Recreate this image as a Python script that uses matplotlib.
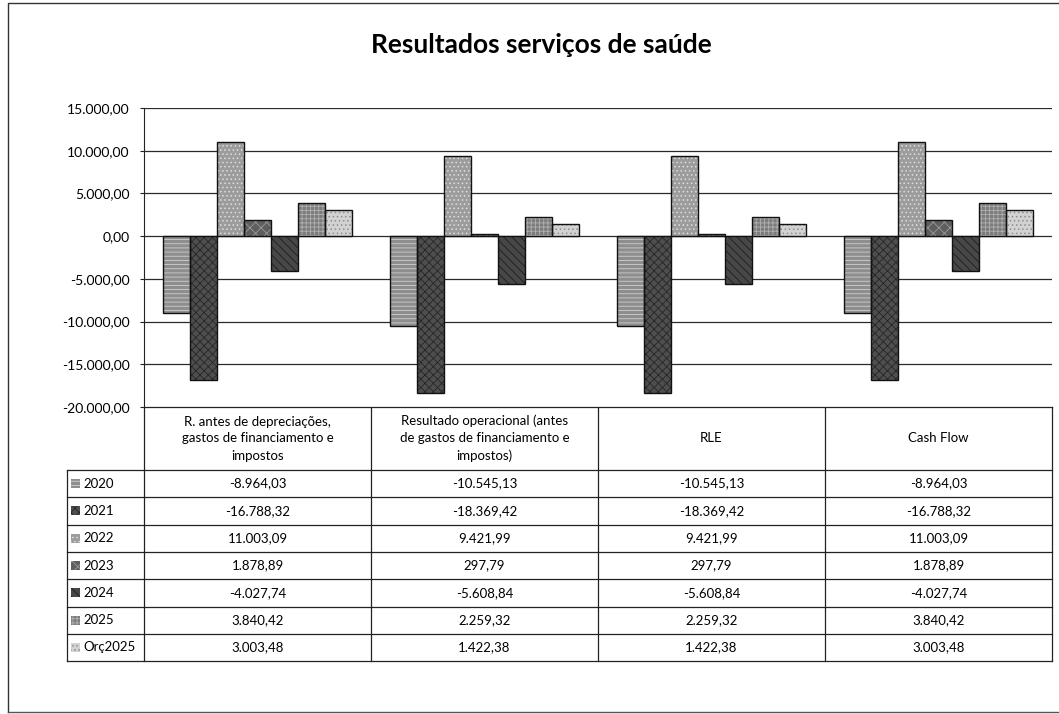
import matplotlib.pyplot as plt
import numpy as np

plt.rcParams['font.family'] = ['Lato', 'DejaVu Sans']
plt.rcParams['hatch.linewidth'] = 0.6

# Data
categories = [
    "R. antes de depreciações,\ngastos de financiamento e\nimpostos",
    "Resultado operacional (antes\nde gastos de financiamento e\nimpostos)",
    "RLE",
    "Cash Flow",
]
series = ["2020", "2021", "2022", "2023", "2024", "2025", "Orç2025"]
v2020 = [-8964.03, -10545.13, -10545.13, -8964.03]
v2021 = [-16788.32, -18369.42, -18369.42, -16788.32]
v2022 = [11003.09, 9421.99, 9421.99, 11003.09]
v2023 = [1878.89, 297.79, 297.79, 1878.89]
v2024 = [-4027.74, -5608.84, -5608.84, -4027.74]
v2025 = [3840.42, 2259.32, 2259.32, 3840.42]
vorc = [3003.48, 1422.38, 1422.38, 3003.48]
values = [v2020, v2021, v2022, v2023, v2024, v2025, vorc]
yticks = [-20000, -15000, -10000, -5000, 0, 5000, 10000, 15000]

# grayscale fills with textures
fills = ['#8e8e8e', '#4e4e4e', '#9c9c9c', '#5e5e5e', '#474747', '#7c7c7c', '#d2d2d2']
hatch_cols = ['#cfcfcf', '#262626', '#dedede', '#9a9a9a', '#1e1e1e', '#b0b0b0', '#8f8f8f']
hatches = ['----', 'xxxx', '....', 'xxx', '\\\\\\\\', '++++', '....']


def br(v):
    s = f"{v:,.2f}"
    return s.replace(',', '#').replace('.', ',').replace('#', '.')


W, H = 1059, 714
fig = plt.figure(figsize=(W / 100, H / 100), dpi=100)

# pixel-space overlay for frame and table
ov = fig.add_axes([0, 0, 1, 1])
ov.set_xlim(0, W)
ov.set_ylim(H, 0)
ov.axis('off')

x0, x1 = 144, 1052
y_top, y_bot = 108, 407
ax = fig.add_axes([x0 / W, 1 - y_bot / H, (x1 - x0) / W, (y_bot - y_top) / H])

n = len(series)
bw = 1 / (n + 1.4)
x = np.arange(len(categories))
for i, (s, vals) in enumerate(zip(series, values)):
    pos = x - 0.5 + 0.7 * bw + (i + 0.5) * bw
    ax.bar(pos, vals, width=bw, color=fills[i], edgecolor=hatch_cols[i],
           hatch=hatches[i], linewidth=0, zorder=3)
    ax.bar(pos, vals, width=bw, fill=False, edgecolor='#111111',
           linewidth=1.0, zorder=4)

ax.set_xlim(-0.5, len(categories) - 0.5)
ax.set_ylim(-20000, 15000)
ax.set_yticks(yticks)
ax.set_yticklabels([br(t) for t in yticks], fontsize=10)
ax.tick_params(axis='y', length=3, width=0.8, pad=7.5, color='#222222')
ax.set_xticks([])
ax.grid(axis='y', color='#2a2a2a', linewidth=0.9, zorder=0)
for side in ['top', 'right', 'bottom']:
    ax.spines[side].set_visible(False)
ax.spines['left'].set_color('#222222')

fig.text(541 / W, 1 - 45 / H, "Resultados serviços de saúde", ha='center',
         va='center', fontsize=19, fontweight='bold')

# outer frame
ov.plot([8, 8, W], [H - 2, 3, 3], color='#333333', lw=1)
ov.plot([8, W], [H - 2, H - 2], color='#555555', lw=1)

# data table below the chart
col_edges = np.linspace(x0, x1, len(categories) + 1)
row_top = 470
rh = 27.3
row_bot = row_top + rh * n
lc = '#222222'
for xe in col_edges:
    ov.plot([xe, xe], [y_bot, row_bot], color=lc, lw=0.9)
ov.plot([67, 67], [row_top, row_bot], color=lc, lw=0.9)
ov.plot([x0, x1], [y_bot, y_bot], color=lc, lw=0.9)
for r in range(n + 1):
    yy = row_top + r * rh
    ov.plot([67, x1], [yy, yy], color=lc, lw=0.9)

for j, c in enumerate(categories):
    cx = (col_edges[j] + col_edges[j + 1]) / 2
    ov.text(cx, (y_bot + row_top) / 2, c, ha='center', va='center',
            fontsize=9.5, linespacing=1.5)

for i, s in enumerate(series):
    cy = row_top + (i + 0.5) * rh
    ov.add_patch(plt.Rectangle((71, cy - 4.5), 9, 9, facecolor=fills[i],
                               edgecolor=hatch_cols[i], hatch=hatches[i], lw=0))
    ov.text(83, cy, s, ha='left', va='center', fontsize=9.5)
    for j in range(len(categories)):
        cx = (col_edges[j] + col_edges[j + 1]) / 2
        ov.text(cx, cy, br(values[i][j]), ha='center', va='center', fontsize=9.5)

fig.savefig('out.png', dpi=100)
